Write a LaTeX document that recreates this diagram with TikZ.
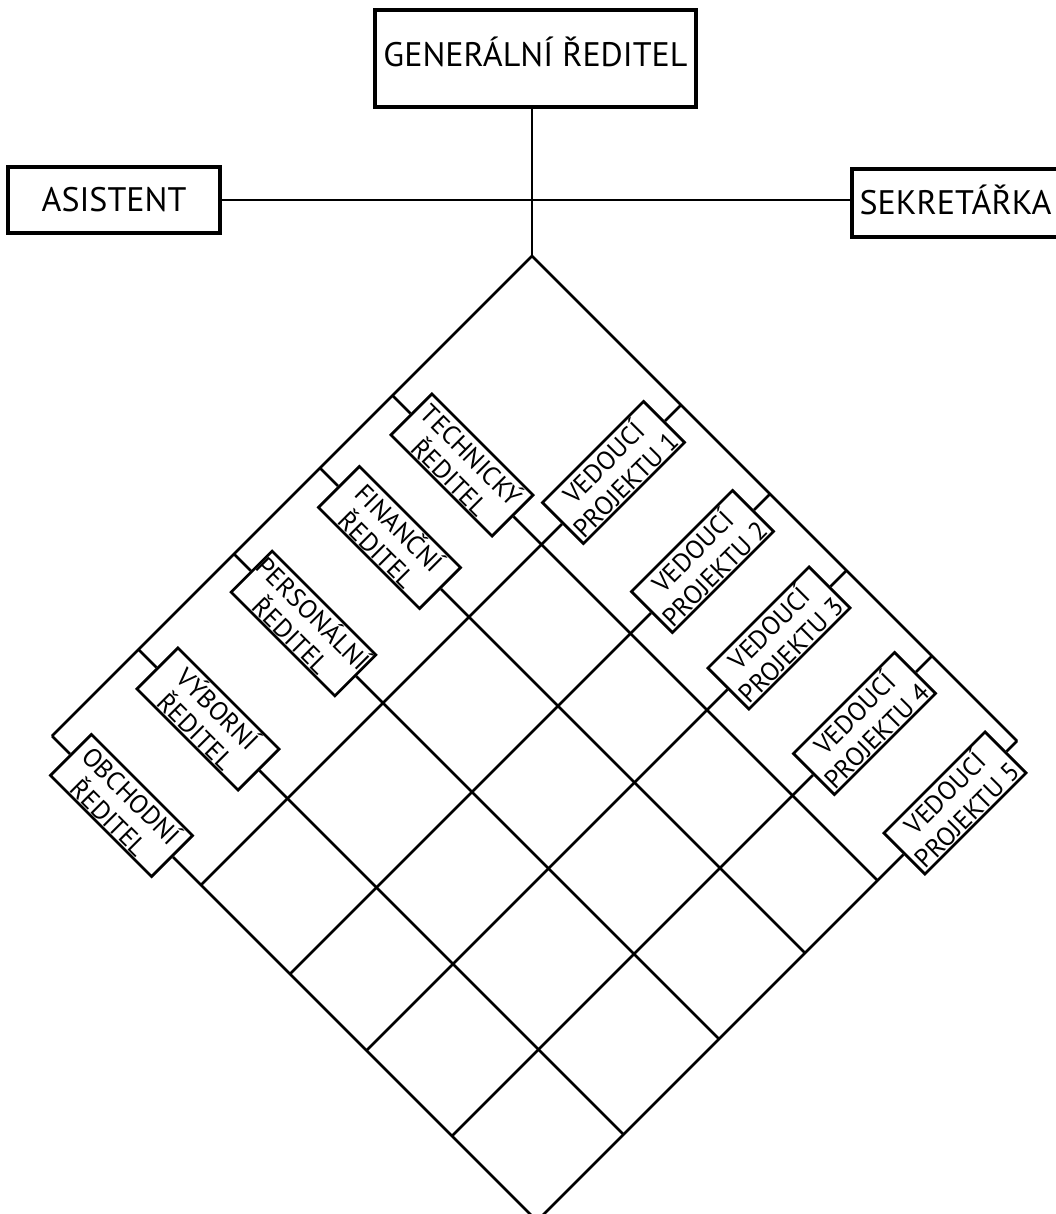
\documentclass[tikz,border=0pt]{standalone}
\usepackage{fontspec}
\setmainfont{PT Sans}
\begin{document}
\begin{tikzpicture}[x=1pt,y=-1pt,
  topbox/.style={draw,line width=3.2pt,inner sep=0pt,text height=24pt,text depth=0pt,
    font=\fontsize{34}{40}\selectfont},
  boxbase/.style={draw,line width=2.7pt,minimum width=143pt,minimum height=58pt,
    inner sep=0pt,align=center,font=\fontsize{26}{31}\selectfont},
  dirbox/.style={boxbase,rotate=-45},
  projbox/.style={boxbase,rotate=45},
  conn/.style={line width=2.7pt},
  mainconn/.style={line width=2.9pt}]
\useasboundingbox (0,0) rectangle (1056,1214);
\clip (0,0) rectangle (1056,1214);

% top level
\node[topbox,minimum width=321pt,minimum height=97pt,text depth=8pt] (gen) at (535.5,58.5) {GENERÁLNÍ ŘEDITEL};
\node[topbox,minimum width=212pt,minimum height=66pt] (asist) at (114,200) {ASISTENT};
\node[topbox,minimum width=207pt,minimum height=68pt] (sekr) at (955.5,203) {SEKRETÁŘKA};
\coordinate (apex) at (532,256);
\draw[mainconn] (asist.east) -- (asist.east -| sekr.west);
\draw[mainconn] (gen.south -| apex) -- (apex);

% matrix in the rotated frame: first axis runs down-right, second down-left
\begin{scope}[shift={(532,256)},x={(0.5pt,-0.5pt)},y={(-0.5pt,-0.5pt)}]
  \coordinate (L) at (0,960);
  \coordinate (R) at (970,0);
  \draw[conn] (L) -- (apex) -- (R);

  % directors (left side)
  \foreach \i/\q/\txt in {1/279/{TECHNICKÝ\\ŘEDITEL},
                           2/424/{FINANČNÍ\\ŘEDITEL},
                           3/596/{PERSONÁLNÍ\\ŘEDITEL},
                           4/787/{VÝBORNÍ\\ŘEDITEL},
                           5/960/{OBCHODNÍ\\ŘEDITEL}}{
    \coordinate (dt\i) at (0,\q);
    \coordinate (de\i) at (970,\q);
    \node[dirbox] (d\i) at (139,\q) {\txt};
    \draw[conn] (dt\i) -- (d\i.west);
    \draw[conn] (d\i.east) -- (de\i);
  }

  % project leaders (right side)
  \foreach \i/\p/\c in {1/298/135, 2/476/135, 3/629/135, 4/800/135, 5/970/124}{
    \coordinate (pt\i) at (\p,0);
    \coordinate (pe\i) at (\p,960);
    \node[projbox] (v\i) at (\p,\c) {VEDOUCÍ\\PROJEKTU \i};
    \draw[conn] (pt\i) -- (v\i.east);
    \draw[conn] (v\i.west) -- (pe\i);
  }
\end{scope}
\end{tikzpicture}
\end{document}
